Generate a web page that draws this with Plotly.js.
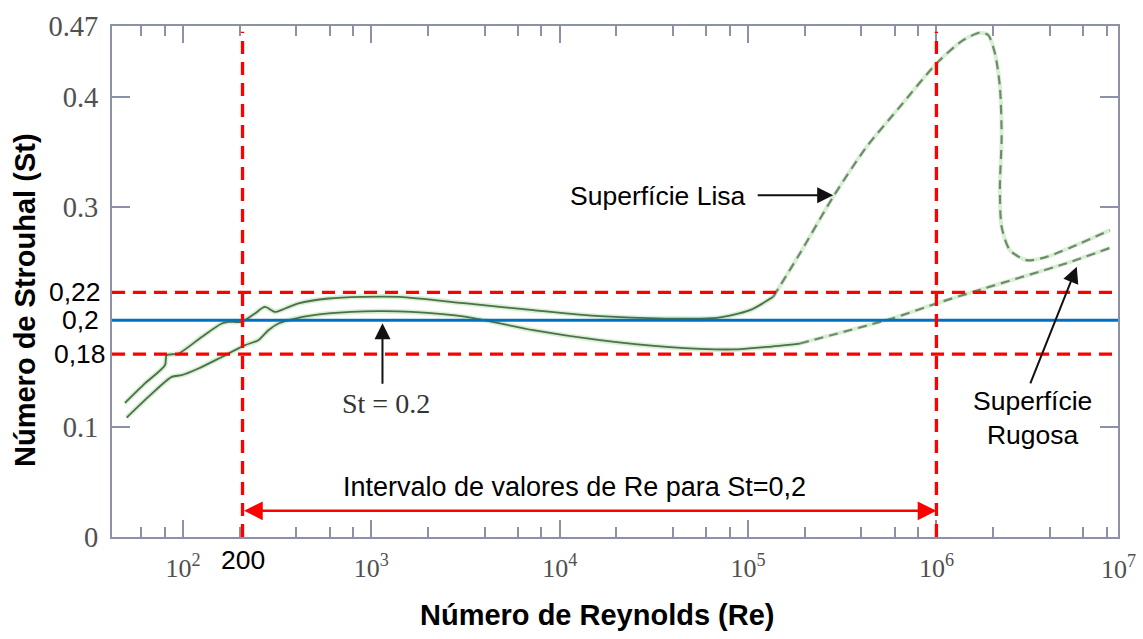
<!DOCTYPE html>
<html>
<head>
<meta charset="utf-8">
<script src="https://cdn.plot.ly/plotly-3.0.1.min.js"></script>
<style>html,body{margin:0;padding:0;background:#fff;}#chart{width:1143px;height:639px;}</style>
</head>
<body>
<div id="chart"></div>
<script>
// ---- Data ----
// Smooth surface ("Superfície Lisa"): solid part (upper curve)
const reUpperSolid = [49.2, 62.8, 80.2, 81.9, 94.7, 125.7, 160.6, 174.3, 205, 241, 272, 308, 348, 410, 592, 889, 1416, 3199, 7227, 16330, 36890, 68040, 102300, 136000];
const stUpperSolid = [0.1218, 0.1395, 0.1561, 0.1652, 0.1667, 0.1818, 0.194, 0.1955, 0.1955, 0.2031, 0.2091, 0.2045, 0.2076, 0.2122, 0.2167, 0.2182, 0.2182, 0.2122, 0.2061, 0.2006, 0.1985, 0.1990, 0.2061, 0.2182];
// Smooth surface dashed continuation
const reLisa = [136000, 188400, 283000, 425900, 640000, 1002000, 1387000, 1701000, 1883000, 2045000, 2173000, 2219000, 2173000, 2219000, 2455000, 3013000, 3846000, 5777000, 8340000];
const stLisa = [0.2182, 0.2576, 0.3091, 0.3545, 0.3909, 0.4304, 0.4515, 0.4582, 0.4561, 0.4395, 0.4091, 0.3636, 0.3182, 0.2818, 0.2606, 0.2515, 0.2545, 0.2667, 0.2788];
// Lower curve: solid part
const reLowerSolid = [50.2, 65.5, 87.1, 98.4, 120.7, 160.6, 213.5, 251, 284, 321, 394, 592, 1091, 1641, 3199, 7227, 16330, 36890, 83400, 125300, 188400];
const stLowerSolid = [0.1085, 0.1273, 0.1455, 0.147, 0.1531, 0.1636, 0.1743, 0.1788, 0.1879, 0.194, 0.1985, 0.2031, 0.2052, 0.2045, 0.2, 0.1879, 0.1788, 0.1727, 0.1704, 0.1727, 0.1758];
// Rough surface ("Superfície Rugosa") dashed continuation
const reRugosa = [188400, 587000, 1000000, 1563000, 4910000, 8340000];
const stRugosa = [0.1758, 0.1988, 0.2122, 0.2227, 0.2488, 0.2627];

// Reference levels
const stTarget = 0.197;            // St = 0,2 (blue)
const stBand = [0.1661, 0.2222];   // 0,18 and 0,22 (red dashed)
const reInterval = [207, 1000000]; // 200 .. 10^6 (red dashed verticals)

// Tick labels
const xTickVals = [100, 1000, 10000, 100000, 1000000];
const xTickText = ['10<sup>2</sup>', '10<sup>3</sup>', '10<sup>4</sup>', '10<sup>5</sup>', '10<sup>6</sup>'];
const xMinorVals = [60, 80, 200, 400, 600, 800, 2000, 4000, 6000, 8000, 20000, 40000, 60000, 80000, 200000, 400000, 600000, 800000, 2000000, 4000000, 6000000, 8000000];
const yTickVals = [0, 0.1, 0.3, 0.4, 0.4643];
const yTickText = ['0', '0.1', '0.3', '0.4', '0.47'];
const bandLabels = ['0,18', '0,2', '0,22'];

const axisColor = '#8d91a8';
const serif = 'Liberation Serif, Times New Roman, serif';
const sans = 'Liberation Sans, Arial, sans-serif';
const glow = 'rgba(175,225,165,0.5)';
const dark = '#4d6e4d';
const dashGreen = '#6f8a6f';

function curve(x, y, color, width, dash) {
  return {x: x, y: y, type: 'scatter', mode: 'lines', hoverinfo: 'skip', showlegend: false,
    line: {color: color, width: width, dash: dash || 'solid', shape: 'spline', smoothing: 0.7}};
}

const traces = [
  curve(reUpperSolid, stUpperSolid, glow, 5),
  curve(reLowerSolid, stLowerSolid, glow, 5),
  curve(reLisa, stLisa, glow, 4),
  curve(reRugosa, stRugosa, glow, 4),
  curve(reUpperSolid, stUpperSolid, dark, 1.8),
  curve(reLowerSolid, stLowerSolid, dark, 1.8),
  curve(reLisa, stLisa, dashGreen, 2.2, '9px,6px'),
  curve(reRugosa, stRugosa, dashGreen, 2.2, '9px,6px')
];

const redDash = {color: '#ff0000', width: 3.3, dash: '13px,8px'};
const shapes = [
  {type: 'line', xref: 'paper', yref: 'y', x0: 0, x1: 1, y0: stTarget, y1: stTarget, line: {color: '#0070c0', width: 3}},
  {type: 'line', xref: 'paper', yref: 'y', x0: 0, x1: 1, y0: stBand[0], y1: stBand[0], line: redDash},
  {type: 'line', xref: 'paper', yref: 'y', x0: 0, x1: 1, y0: stBand[1], y1: stBand[1], line: redDash},
  {type: 'line', xref: 'x', yref: 'y', x0: reInterval[0], x1: reInterval[0], y0: 0, y1: 0.459, line: redDash},
  {type: 'line', xref: 'x', yref: 'y', x0: reInterval[1], x1: reInterval[1], y0: 0, y1: 0.459, line: redDash}
];

const L = Math.log10;
const sansFont = {family: sans, size: 26.5, color: '#000'};
const annotations = [
  // interval double arrow
  {xref: 'x', yref: 'y', axref: 'x', ayref: 'y', x: L(reInterval[1]), y: 0.0238, ax: L(reInterval[0]), ay: 0.0238,
   showarrow: true, arrowside: 'end+start', arrowhead: 2, startarrowhead: 2, arrowsize: 1.5, startarrowsize: 1.5, arrowwidth: 2.5, arrowcolor: '#ff0000', text: ''},
  {xref: 'x', yref: 'y', x: 4.08, y: 0.0452, xanchor: 'center', text: 'Intervalo de valores de Re para St=0,2', showarrow: false,
   font: {family: sans, size: 27, color: '#000'}},
  {xref: 'x', yref: 'paper', x: L(reInterval[0]), xanchor: 'center', y: -0.045, yanchor: 'middle', text: '200', showarrow: false, font: sansFont},
  // St = 0.2 arrow + label
  {xref: 'x', yref: 'y', x: 3.059, y: 0.1943, ax: 0, ay: 62, axref: 'pixel', ayref: 'pixel', text: '', showarrow: true,
   arrowhead: 2, arrowsize: 1.6, arrowwidth: 2, arrowcolor: '#111'},
  {xref: 'x', yref: 'y', x: 3.08, y: 0.1215, xanchor: 'center', text: 'St = 0.2', showarrow: false, font: {family: serif, size: 28, color: '#333'}},
  // Superfície Lisa
  {xref: 'x', yref: 'y', x: 5.452, y: 0.3106, ax: -77, ay: 0, axref: 'pixel', ayref: 'pixel', text: '', showarrow: true,
   arrowhead: 2, arrowsize: 1.6, arrowwidth: 2, arrowcolor: '#111'},
  {xref: 'x', yref: 'y', x: 4.521, y: 0.3095, xanchor: 'center', text: 'Superfície Lisa', showarrow: false, font: sansFont},
  // Superfície Rugosa
  {xref: 'x', yref: 'y', x: 6.745, y: 0.2455, ax: -47, ay: 118, axref: 'pixel', ayref: 'pixel', text: '', showarrow: true,
   arrowhead: 2, arrowsize: 1.6, arrowwidth: 2, arrowcolor: '#111'},
  {xref: 'x', yref: 'y', x: 6.512, y: 0.1084, xanchor: 'center', text: 'Superfície<br>Rugosa', showarrow: false, font: sansFont},
  // band labels on the y axis
  {xref: 'paper', yref: 'y', x: -0.004, xanchor: 'right', y: stBand[0], text: bandLabels[0], showarrow: false, font: sansFont},
  {xref: 'paper', yref: 'y', x: -0.011, xanchor: 'right', y: stTarget, text: bandLabels[1], showarrow: false, font: sansFont},
  {xref: 'paper', yref: 'y', x: -0.009, xanchor: 'right', y: stBand[1], text: bandLabels[2], showarrow: false, font: sansFont},
  // 10^7 label at right edge
  {xref: 'paper', yref: 'paper', x: 1.0, xanchor: 'center', y: -0.06, yanchor: 'middle', text: '10<sup>7</sup>', showarrow: false,
   font: {family: serif, size: 26, color: '#505050'}},
  // axis titles
  {xref: 'paper', yref: 'paper', x: 0.4826, xanchor: 'center', y: -0.1526, yanchor: 'middle', text: '<b>Número de Reynolds (Re)</b>', showarrow: false,
   font: {family: sans, size: 29, color: '#000'}},
  {xref: 'paper', yref: 'paper', x: -0.0865, xanchor: 'center', y: 0.4638, yanchor: 'middle', textangle: -90, text: '<b>Número de Strouhal (St)</b>', showarrow: false,
   font: {family: sans, size: 29, color: '#000'}}
];

const layout = {
  width: 1143, height: 639,
  margin: {l: 112, r: 25, t: 26, b: 102},
  paper_bgcolor: '#fff', plot_bgcolor: '#fff',
  showlegend: false,
  xaxis: {
    type: 'log', range: [1.623, 6.964], tickmode: 'array', tickvals: xTickVals, ticktext: xTickText,
    ticks: 'inside', ticklen: 17, tickwidth: 2, tickcolor: axisColor,
    minor: {tickmode: 'array', tickvals: xMinorVals, ticks: 'inside', ticklen: 10, tickwidth: 2, tickcolor: axisColor, showgrid: false},
    showline: true, linecolor: axisColor, linewidth: 2, mirror: 'ticks', showgrid: false, zeroline: false,
    tickfont: {family: serif, size: 26, color: '#505050'}, ticklabelstandoff: 7
  },
  yaxis: {
    range: [0, 0.4643], tickmode: 'array', tickvals: yTickVals, ticktext: yTickText,
    ticks: 'inside', ticklen: 18, tickwidth: 2, tickcolor: axisColor,
    showline: true, linecolor: axisColor, linewidth: 2, mirror: 'ticks', showgrid: false, zeroline: false,
    tickfont: {family: serif, size: 28.5, color: '#505050'}, ticklabelstandoff: 6
  },
  shapes: shapes,
  annotations: annotations
};

Plotly.newPlot('chart', traces, layout, {staticPlot: true, displayModeBar: false});
</script>
</body>
</html>
